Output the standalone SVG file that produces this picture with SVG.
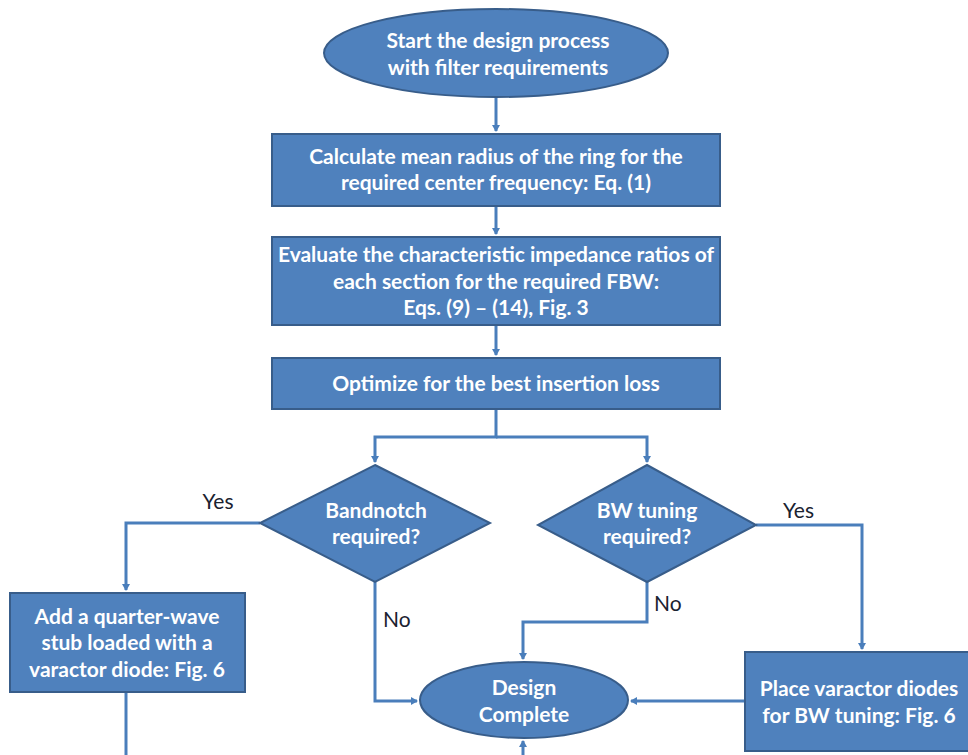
<svg xmlns="http://www.w3.org/2000/svg" width="968" height="755" viewBox="0 0 968 755">
<defs>
<marker id="ah" markerWidth="8" markerHeight="8" refX="6" refY="4" orient="auto" markerUnits="userSpaceOnUse">
<path d="M0,0 L7,4 L0,8 Z" fill="#4A7EBB"/>
</marker>
<style>
.n{fill:#4F81BD;stroke:#385D8A;stroke-width:2}
.t{font-family:Lato,"Open Sans","Liberation Sans",sans-serif;font-weight:bold;font-size:21px;fill:#fff;text-anchor:middle}
.l{font-family:Lato,"Open Sans","Liberation Sans",sans-serif;font-size:21px;fill:#1a2230}
.c{fill:none;stroke:#4A7EBB;stroke-width:3}
</style>
</defs>
<rect width="968" height="755" fill="#fff"/>
<g id="connectors">
<path class="c" d="M496,97 V131" marker-end="url(#ah)"/>
<path class="c" d="M496,206 V234" marker-end="url(#ah)"/>
<path class="c" d="M496,325 V355" marker-end="url(#ah)"/>
<path class="c" d="M496,409 V437 H375 V462" marker-end="url(#ah)"/>
<path class="c" d="M496,437 H647 V462" marker-end="url(#ah)"/>
<path class="c" d="M260,523 H126 V590" marker-end="url(#ah)"/>
<path class="c" d="M126,692 V755"/>
<path class="c" d="M375,582 V701 H417" marker-end="url(#ah)"/>
<path class="c" d="M647,582 V622 H523 V659" marker-end="url(#ah)"/>
<path class="c" d="M756,525 H862 V649" marker-end="url(#ah)"/>
<path class="c" d="M745,701 H631" marker-end="url(#ah)"/>
<path class="c" d="M523,755 V741" marker-end="url(#ah)"/>
</g>
<g id="start">
<ellipse class="n" cx="496" cy="53" rx="172" ry="44"/>
<text class="t" x="498" y="48">Start the design process</text>
<text class="t" x="498" y="75">with filter requirements</text>
</g>
<g id="calc">
<rect class="n" x="272" y="134" width="448" height="72"/>
<text class="t" x="496" y="164">Calculate mean radius of the ring for the</text>
<text class="t" x="496" y="190">required center frequency: Eq. (1)</text>
</g>
<g id="eval">
<rect class="n" x="272" y="237" width="448" height="88"/>
<text class="t" x="496" y="262">Evaluate the characteristic impedance ratios of</text>
<text class="t" x="496" y="289">each section for the required FBW:</text>
<text class="t" x="496" y="315">Eqs. (9) – (14), Fig. 3</text>
</g>
<g id="opt">
<rect class="n" x="272" y="358" width="448" height="51"/>
<text class="t" x="496" y="391">Optimize for the best insertion loss</text>
</g>
<g id="bandnotch">
<path class="n" d="M375,465 L490,523 L375,582 L260,523 Z"/>
<text class="t" x="376" y="518">Bandnotch</text>
<text class="t" x="376" y="544">required?</text>
</g>
<g id="bwtuning">
<path class="n" d="M647,465 L756,525 L647,582 L538,525 Z"/>
<text class="t" x="647" y="518">BW tuning</text>
<text class="t" x="647" y="544">required?</text>
</g>
<g id="stub">
<rect class="n" x="10" y="593" width="235" height="99"/>
<text class="t" x="127" y="624">Add a quarter-wave</text>
<text class="t" x="127" y="650">stub loaded with a</text>
<text class="t" x="127" y="677">varactor diode: Fig. 6</text>
</g>
<g id="complete">
<ellipse class="n" cx="524" cy="700" rx="104" ry="38"/>
<text class="t" x="524" y="695">Design</text>
<text class="t" x="524" y="722">Complete</text>
</g>
<g id="place">
<rect class="n" x="745" y="652" width="230" height="99"/>
<text class="t" x="859" y="696">Place varactor diodes</text>
<text class="t" x="859" y="723">for BW tuning: Fig. 6</text>
</g>
<g id="labels">
<text class="l" x="218" y="509" text-anchor="middle">Yes</text>
<text class="l" x="383" y="627">No</text>
<text class="l" x="654" y="611">No</text>
<text class="l" x="783" y="518">Yes</text>
</g>
</svg>
